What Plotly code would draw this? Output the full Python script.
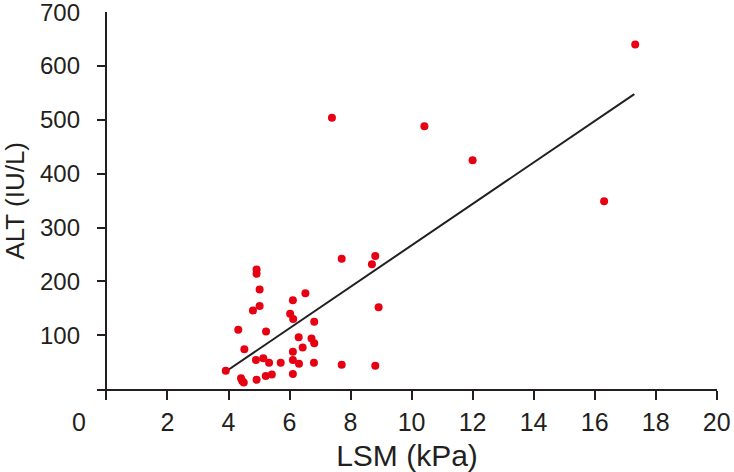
import plotly.graph_objects as go

# LSM (kPa) vs ALT (IU/L)
lsm = [3.91, 4.41, 4.50, 4.92, 5.22, 5.42, 6.11, 4.90, 5.14, 5.33,
       5.71, 6.11, 6.31, 6.80, 6.11, 6.43, 6.30, 6.72, 6.81, 4.52,
       4.32, 5.23, 6.81, 6.02, 6.12, 4.80, 5.02, 6.11, 6.52, 5.02,
       4.92, 4.92, 7.71, 7.71, 10.42, 12.0, 16.31, 8.81, 8.70, 8.92,
       8.81, 7.39, 17.33, 4.45]
alt = [34, 20, 12, 17, 24, 27, 28, 54, 57, 49,
       49, 54, 47, 49, 69, 77, 96, 94, 85, 74,
       110, 107, 125, 140, 130, 146, 154, 165, 178, 185,
       214, 222, 242, 45, 488, 425, 349, 247, 232, 152,
       43, 504, 640, 15]

# regression line end points
fit_x = [3.9, 17.3]
fit_y = [32, 548]

x_ticks = list(range(0, 21, 2))
y_ticks = list(range(100, 701, 100))

ink = "#231f20"
font = "Liberation Sans, Arial, sans-serif"

fig = go.Figure()

fig.add_trace(go.Scatter(
    x=fit_x, y=fit_y, mode="lines",
    line=dict(color=ink, width=2),
    showlegend=False
))

fig.add_trace(go.Scatter(
    x=lsm, y=alt, mode="markers",
    marker=dict(color="#e60012", size=8),
    showlegend=False
))

fig.update_xaxes(
    range=[-0.31, 20.01], tickvals=x_ticks,
    ticktext=[""] + [str(v) for v in x_ticks[1:]],
    ticks="outside", ticklen=9, tickwidth=1.5, tickcolor=ink,
    showline=True, linecolor=ink, linewidth=1.5,
    zeroline=True, zerolinecolor=ink, zerolinewidth=1.5,
    showgrid=False, ticklabelstandoff=1, automargin=False,
    ticklabeloverflow="allow",
    title=dict(text="LSM (kPa)", standoff=13),
)
fig.update_yaxes(
    range=[0, 700.5], tickvals=y_ticks,
    ticks="inside", ticklen=10, tickwidth=1.5, tickcolor=ink,
    showline=False, zeroline=False, showgrid=False,
    ticklabelstandoff=16, automargin=False,
    ticklabeloverflow="allow", tickfont=dict(size=24),
)

# y title placed by hand, closer to the edge than plotly's default
fig.add_annotation(
    text="ALT (IU/L)", xref="paper", yref="paper", x=0, y=0.5,
    xanchor="center", yanchor="middle", xshift=-83, textangle=-90,
    showarrow=False, font=dict(size=26, color=ink, family=font)
)

# shared origin label
fig.add_annotation(
    text="0", xref="paper", yref="y", x=0, y=0,
    xanchor="right", yanchor="middle", xshift=-9, yshift=-33,
    showarrow=False, font=dict(size=25, color=ink, family=font)
)

fig.update_layout(
    width=734, height=472,
    margin=dict(l=97, r=17, t=12, b=83),
    paper_bgcolor="white", plot_bgcolor="white",
    font=dict(family=font, size=25, color=ink),
)

fig.write_html("out.html", config={"displayModeBar": False},
               post_script="document.body.style.margin='0';")
